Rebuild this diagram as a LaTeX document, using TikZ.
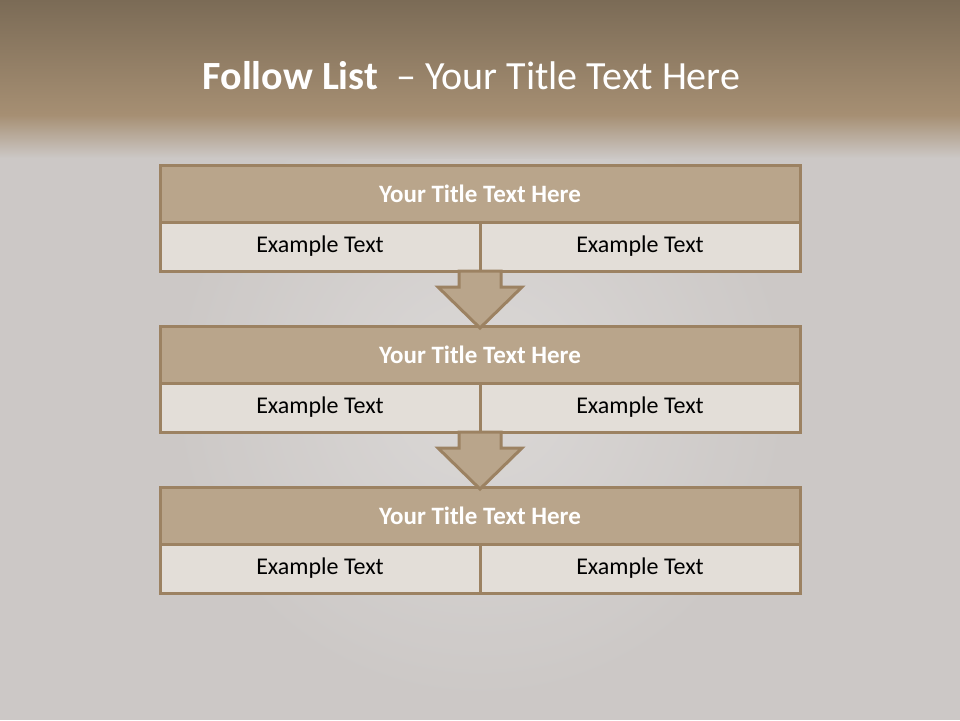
\documentclass[tikz,border=0pt]{standalone}
\usepackage{fontspec}
\setmainfont{Carlito}
\usetikzlibrary{positioning, calc}
\definecolor{cbrown}{HTML}{9C8262}
\definecolor{ctan}{HTML}{B9A58B}
\definecolor{cpale}{HTML}{E3DED8}
\definecolor{cbgtop}{HTML}{7B6B56}
\definecolor{cbgmid}{HTML}{A68F73}
\definecolor{cbggrey}{HTML}{CCC8C6}
\tikzset{
  every picture/.style={line width=3pt},
  head/.style={draw=cbrown, fill=ctan, text=white, font=\fontsize{25}{29}\selectfont\bfseries,
    minimum width=640pt, minimum height=57pt, inner sep=0pt, outer sep=0pt},
  cell/.style={draw=cbrown, fill=cpale, text=black, font=\fontsize{24}{28}\selectfont,
    minimum width=320pt, minimum height=49pt, inner sep=0pt, outer sep=0pt},
  flow/.style={draw=cbrown, fill=ctan, line join=miter},
  title/.style={text=white, font=\fontsize{40}{46}\selectfont},
}

\begin{document}
\begin{tikzpicture}[x=1pt, y=-1pt]
  % ---------- background ----------
  \useasboundingbox (0,0) rectangle (960,720);
  \fill[cbggrey] (0,0) rectangle (960,720);
  \shade[inner color=white, outer color=cbggrey, opacity=0.3] (480,390) circle (320);
  \shade[top color=cbgtop, bottom color=cbgmid] (0,0) rectangle (960,115);
  \shade[top color=cbgmid, bottom color=cbggrey] (0,115) rectangle (960,158);
  \node[title] (ttl) at (471.5,76) {\textbf{Follow List}\ \ – Your Title Text Here};
  % ---------- three boxes ----------
  \foreach \i in {1,2,3} {
    \node[head] (h\i) at (480, 193.5+161*\i-161) {Your Title Text Here};
    \node[cell, anchor=north west] (l\i) at (h\i.south west) {Example Text};
    \node[cell, anchor=north east] (r\i) at (h\i.south east) {Example Text};
  }
  % ---------- arrows between boxes ----------
  \foreach \i/\j in {1/2, 2/3} {
    \draw[flow] ($(l\i.south east)+(-21,0)$) -- ++(0,16) -- ++(-21,0) -- ($(h\j.north)+(0,2)$)
      -- ($(l\i.south east)+(42,16)$) -- ++(-21,0) -- ($(l\i.south east)+(21,0)$) -- cycle;
  }
\end{tikzpicture}
\end{document}
